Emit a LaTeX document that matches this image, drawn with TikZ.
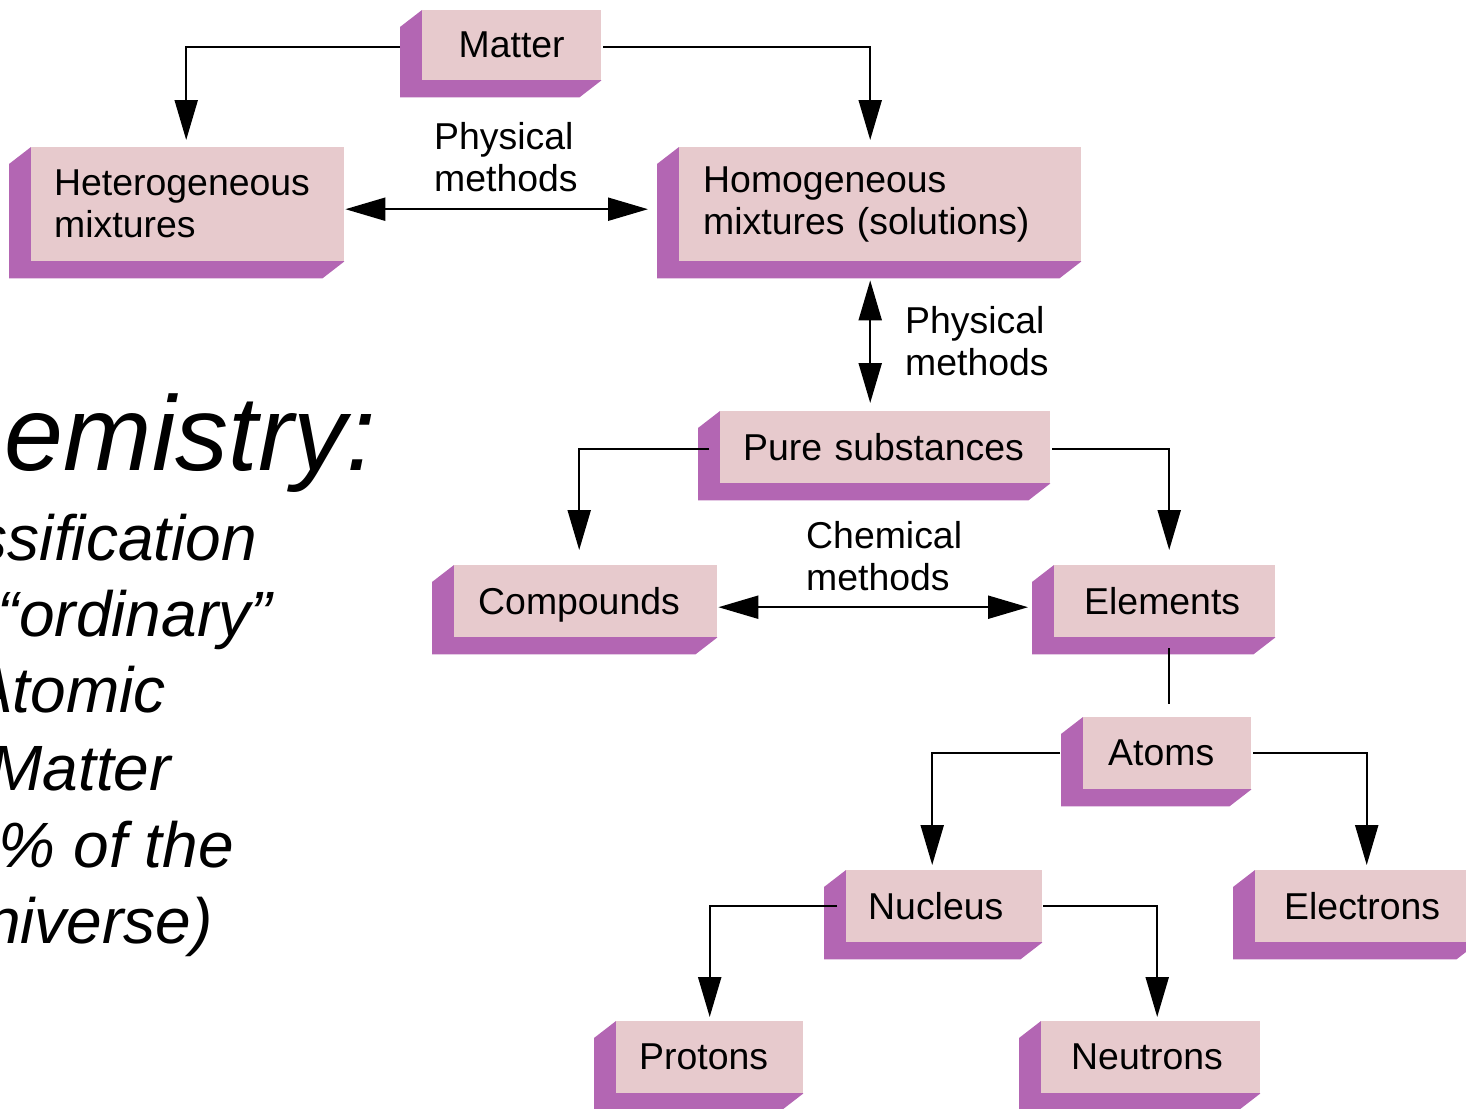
\documentclass[tikz,border=0pt]{standalone}
\usepackage{fontspec}
\setmainfont{Liberation Sans}
\usetikzlibrary{arrows.meta,backgrounds}
\definecolor{slabpink}{RGB}{231,202,205}
\definecolor{slabpurple}{RGB}{179,102,179}
\tikzset{
  slab/.style={rectangle, fill=slabpink, inner ysep=0pt, anchor=north west, align=left, font=\fontsize{37.4}{42}\selectfont},
  conn/.style={line width=2.2pt, -{Triangle[length=40pt,width=23pt]}},
  dconn/.style={line width=2.2pt, {Triangle[length=40pt,width=23pt]}-{Triangle[length=40pt,width=23pt]}},
  plainconn/.style={line width=2.2pt},
  lbl/.style={inner sep=0pt, anchor=north west, align=left, font=\fontsize{37.4}{42}\selectfont},
  bigtxt/.style={inner sep=0pt, anchor=base east, font=\itshape\fontsize{64}{64}\selectfont},
}
\newcommand{\slabside}[1]{\fill[slabpurple] (#1.north west) -- ++(-22,17) -- ([shift={(-22,17)}]#1.south west) -- ([shift={(-22,17)}]#1.south east) -- (#1.south east) -- cycle;}
\begin{document}
\begin{tikzpicture}[x=1pt,y=-1pt]
\useasboundingbox (0,0) rectangle (1466,1108);
% boxes
\node[slab, inner xsep=0pt, text width=179pt, align=center, minimum height=70pt] (matter) at (422,10) {Matter};
\node[slab, inner xsep=23pt, text width=267pt, minimum height=114pt] (hetero) at (31,147) {Heterogeneous\\mixtures};
\node[slab, inner xsep=24pt, text width=354pt, minimum height=114pt] (homo) at (679,147) {Homogeneous\\mixtures (solutions)};
\node[slab, inner xsep=23pt, text width=284pt, minimum height=72pt] (pure) at (720,411) {Pure substances};
\node[slab, inner xsep=24pt, text width=215pt, minimum height=72pt, text depth=0pt] (compounds) at (454,565) {Compounds};
\node[slab, inner xsep=30pt, text width=161pt, minimum height=72pt] (elements) at (1054,565) {Elements};
\node[slab, inner xsep=25pt, text width=118pt, minimum height=72pt] (atoms) at (1083,717) {Atoms};
\node[slab, inner xsep=22pt, text width=152pt, minimum height=72pt] (nucleus) at (846,870) {Nucleus};
\node[slab, inner xsep=29pt, text width=165pt, minimum height=72pt] (electrons) at (1255,870) {Electrons};
\node[slab, inner xsep=23pt, text width=141pt, minimum height=72pt] (protons) at (616,1021) {Protons};
\node[slab, inner xsep=30pt, text width=159pt, minimum height=72pt] (neutrons) at (1041,1021) {Neutrons};
\begin{pgfonlayer}{background}
\slabside{matter}\slabside{hetero}\slabside{homo}\slabside{pure}
\slabside{compounds}\slabside{elements}\slabside{atoms}\slabside{nucleus}
\slabside{electrons}\slabside{protons}\slabside{neutrons}
\end{pgfonlayer}
% labels
\node[lbl] (lblA) at (434,122) {Physical\\methods};
\node[lbl] (lblB) at (905,306) {Physical\\methods};
\node[lbl] (lblC) at (806,521) {Chemical\\methods};
% connectors
\draw[conn] ([xshift=-22pt,yshift=-2pt]matter.west) -| ([xshift=-1.5pt,yshift=7pt]hetero.north);
\draw[conn] ([xshift=2pt,yshift=-2pt]matter.east) -| ([xshift=-10pt,yshift=7pt]homo.north);
\draw[dconn] ([xshift=1pt,yshift=-5pt]hetero.east) -- ([xshift=-31pt,yshift=-5pt]homo.west);
\draw[dconn] ([xshift=-10pt,yshift=-19pt]homo.south) -- ([xshift=-15pt,yshift=8pt]pure.north);
\draw[conn] ([xshift=-11pt,yshift=-2pt]pure.west) -| ([xshift=-6.5pt,yshift=15pt]compounds.north);
\draw[conn] ([xshift=2pt,yshift=-2pt]pure.east) -| ([xshift=4.5pt,yshift=15pt]elements.north);
\draw[dconn] ([xshift=1pt,yshift=-6pt]compounds.east) -- ([xshift=-26pt,yshift=-6pt]elements.west);
\draw[plainconn] ([xshift=4.5pt,yshift=-11pt]elements.south) -- ([xshift=2pt,yshift=13pt]atoms.north);
\draw[conn] ([xshift=-23pt]atoms.west) -| ([xshift=-12pt,yshift=5pt]nucleus.north);
\draw[conn] ([xshift=2pt]atoms.east) -| ([yshift=5pt]electrons.north);
\draw[conn] ([xshift=-9pt]nucleus.west) -| ([yshift=4pt]protons.north);
\draw[conn] ([xshift=1pt]nucleus.east) -| ([xshift=6.5pt,yshift=4pt]neutrons.north);
% left text
\node[bigtxt, font=\itshape\fontsize{106}{106}\selectfont] (t1) at (376,470) {emistry:};
\node[bigtxt] (t2) at (257,560) {ssification};
\node[bigtxt] (t3) at (272,636) {“ordinary”};
\node[bigtxt] (t4) at (166,712) {Atomic};
\node[bigtxt] (t5) at (171,790) {Matter};
\node[bigtxt] (t6) at (234,867) {\% of the};
\node[bigtxt] (t7) at (213,943) {niverse)};
\end{tikzpicture}
\end{document}
